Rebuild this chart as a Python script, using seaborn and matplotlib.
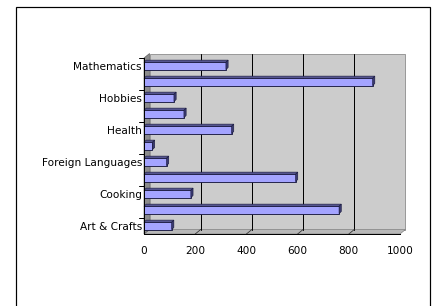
import matplotlib
matplotlib.use("Agg")
import matplotlib.pyplot as plt
import matplotlib.transforms as mtransforms
from matplotlib.patches import Polygon, Rectangle
import numpy as np
import pandas as pd
import seaborn as sns

# bars listed top to bottom, labels only on every other category
labels = ["Mathematics", "", "Hobbies", "", "Health", "",
          "Foreign Languages", "", "Cooking", "", "Art & Crafts"]
values = [320, 893, 117, 156, 342, 33, 88, 592, 183, 762, 108]
x_ticks = [0, 200, 400, 600, 800, 1000]

df = pd.DataFrame({"slot": [str(i) for i in range(len(values))], "value": values})

sns.set_style("white")
plt.rcParams["font.family"] = ["DejaVu Sans"]
plt.rcParams["text.color"] = "black"

W, H = 432, 306
fig = plt.figure(figsize=(W / 72, H / 72), dpi=72)
# outer chart frame
fig.patches.append(Rectangle((16 / W, -0.1), (430 - 16) / W, 1.1 - 7 / H,
                             transform=fig.transFigure, fill=False,
                             edgecolor="black", linewidth=1.2))

ax = fig.add_axes([144 / W, 1 - 234 / H, 256 / W, (234 - 58) / H])
ax.set_facecolor("none")

sns.barplot(data=df, x="value", y="slot", orient="h", color="#a4a4ff",
            edgecolor="#1a1a40", linewidth=0.9, width=0.46, saturation=1, ax=ax)
ax.set_xlim(0, 1000)
ax.set_ylim(len(values) - 0.5, -0.5)
for bar in ax.patches:
    bar.set_zorder(2)

# 3d box: back wall, floor, left side wall
dx, dy = 5.5, 4.5
back = mtransforms.offset_copy(ax.transData, fig=fig, x=dx, y=dy, units="dots")
ax.add_patch(Rectangle((0, len(values) - 0.5), 1000, -len(values), transform=back,
                       facecolor="#cccccc", edgecolor="#888888", lw=0.8, zorder=0,
                       clip_on=False))
for t in x_ticks[1:-1]:
    ax.plot([t, t], [len(values) - 0.5, -0.5], color="black", lw=1.0,
            transform=back, zorder=0.5, clip_on=False)

to_px = ax.transData.transform
y_bot = len(values) - 0.5
y_top = -0.5
p0, p1 = to_px((0, y_bot)), to_px((1000, y_bot))
pt = to_px((0, y_top))
floor = [p0, p1, p1 + [dx, dy], p0 + [dx, dy]]
ax.add_patch(Polygon(floor, closed=True, transform=None, facecolor="#b8b8b8",
                     edgecolor="#777777", lw=0.6, zorder=0.2, clip_on=False))
wall = [p0, pt, pt + [dx, dy], p0 + [dx, dy]]
ax.add_patch(Polygon(wall, closed=True, transform=None, facecolor="#8c8c8c",
                     edgecolor="#555555", lw=0.6, zorder=0.2, clip_on=False))
for t in x_ticks[1:-1]:
    a = to_px((t, y_bot))
    ax.plot([a[0], a[0] + dx], [a[1], a[1] + dy], transform=None,
            color="#333333", lw=0.8, zorder=0.6, clip_on=False)

# bar depth faces
d = 2.2
renderer = fig.canvas.get_renderer()
for bar in [p for p in ax.patches if p.get_zorder() == 2]:
    bb = bar.get_window_extent(renderer=renderer)
    x0, x1, y0, y1 = bb.x0, bb.x1, bb.y0, bb.y1
    top = [(x0, y1), (x1, y1), (x1 + d, y1 + d), (x0 + d, y1 + d)]
    side = [(x1, y0), (x1, y1), (x1 + d, y1 + d), (x1 + d, y0 + d)]
    for poly, fc in ((top, "#55558f"), (side, "#3a3a70")):
        ax.add_patch(Polygon(poly, closed=True, transform=None, facecolor=fc,
                             edgecolor="#1a1a40", lw=0.6, zorder=3, clip_on=False))

for s in ["top", "right"]:
    ax.spines[s].set_visible(False)
for s in ["left", "bottom"]:
    ax.spines[s].set_color("black")
    ax.spines[s].set_linewidth(1.0)
    ax.spines[s].set_zorder(4)

ax.set_xticks(x_ticks)
ax.set_xticklabels([str(t) for t in x_ticks], fontsize=10.5)
ax.tick_params(axis="x", direction="out", length=5, width=1, pad=7,
               colors="black", labelcolor="black")

ax.set_yticks(range(len(values)))
ax.set_yticklabels(labels, fontsize=10.5)
ax.tick_params(axis="y", length=0, pad=2, labelcolor="black")
# category tick marks at every other boundary
for b in np.arange(-0.5, len(values), 2):
    ax.plot([-0.018, 0], [b, b], color="black", lw=1.0,
            transform=ax.get_yaxis_transform(), clip_on=False)

ax.set_xlabel("")
ax.set_ylabel("")

fig.savefig("out.png", dpi=72)
